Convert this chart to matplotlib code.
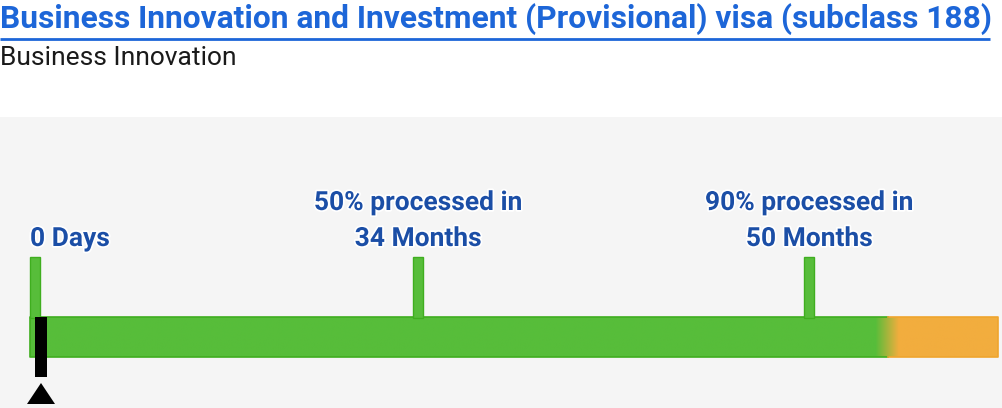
import numpy as np
import matplotlib.pyplot as plt
import matplotlib.patheffects as pe
from matplotlib.patches import Rectangle, Polygon

plt.rcParams['font.family'] = ['Roboto', 'DejaVu Sans']

title = 'Business Innovation and Investment (Provisional) visa (subclass 188)'
subtitle = 'Business Innovation'
# markers along the bar, as fraction of bar length
tick_pos = [0.0, 0.396, 0.8]
tick_text = ['0 Days', '50% processed in\n34 Months', '90% processed in\n50 Months']
orange_from = 0.898   # where the bar turns orange
blend = 0.024         # width of the green->orange fade
current = 0.0         # position of black pointer

GREEN = np.array([87, 189, 58]) / 255
ORANGE = np.array([242, 173, 62]) / 255
LABEL = '#1b4ea6'

fig = plt.figure(figsize=(10.02, 4.08), dpi=100)
ax = fig.add_axes([0, 0, 1, 1])

# header
ax.text(0, 19, title, color='#1d66d8', fontsize=22.9, fontweight='bold', va='center', ha='left')
ax.plot([0, 990], [39, 39], color='#1d66d8', lw=2, solid_capstyle='butt')
ax.text(0, 58, subtitle, color='#1a1a1a', fontsize=19, va='center', ha='left')

# grey panel
ax.add_patch(Rectangle((0, 117), 1002, 291, color='#f5f5f5', lw=0, zorder=0))

# bar
x0, x1 = 30, 998
y0, y1 = 317, 357
w = x1 - x0
t = np.linspace(0, 1, 1000)
mix = np.clip((t - (orange_from - blend)) / blend, 0, 1)
rgb = GREEN[None, :] * (1 - mix[:, None]) + ORANGE[None, :] * mix[:, None]
ax.imshow(rgb[None, :, :], extent=(x0, x1, y1, y0), aspect='auto', zorder=2,
          interpolation='bilinear')
xm = x0 + w * (orange_from - blend / 2)
ax.plot([xm, x0, x0, xm], [y0, y0, y1, y1], color='#3fae1f', lw=1.2, zorder=3)
ax.plot([xm, x1, x1, xm], [y0, y0, y1, y1], color='#efa52e', lw=1.2, zorder=3)

# marker ticks and labels
for p, txt in zip(tick_pos, tick_text):
    left = x0 + p * w
    cx = left + 5
    ax.add_patch(Rectangle((left, 257), 10, y0 - 257 + 1, facecolor=GREEN,
                           edgecolor='#3fae1f', lw=1, zorder=3))
    lines = txt.split('\n')
    ha = 'left' if p == 0 else 'center'
    tx = x0 if p == 0 else cx
    for i, ln in enumerate(reversed(lines)):
        ax.text(tx, 239 - 36 * i, ln, color=LABEL, fontsize=19, fontweight='bold',
                ha=ha, va='center', zorder=4,
                path_effects=[pe.withStroke(linewidth=2.5, foreground='white')])

# current position pointer
px = x0 + 11 + current * w
ax.add_patch(Rectangle((px - 6, y0), 12, 60, color='black', lw=0, zorder=5))
ax.add_patch(Polygon([[px, 383], [px - 14, 404], [px + 14, 404]], closed=True,
                     color='black', lw=0, zorder=5))

ax.set_xlim(0, 1002)
ax.set_ylim(408, 0)
ax.axis('off')

fig.savefig('out.png', dpi=100)
